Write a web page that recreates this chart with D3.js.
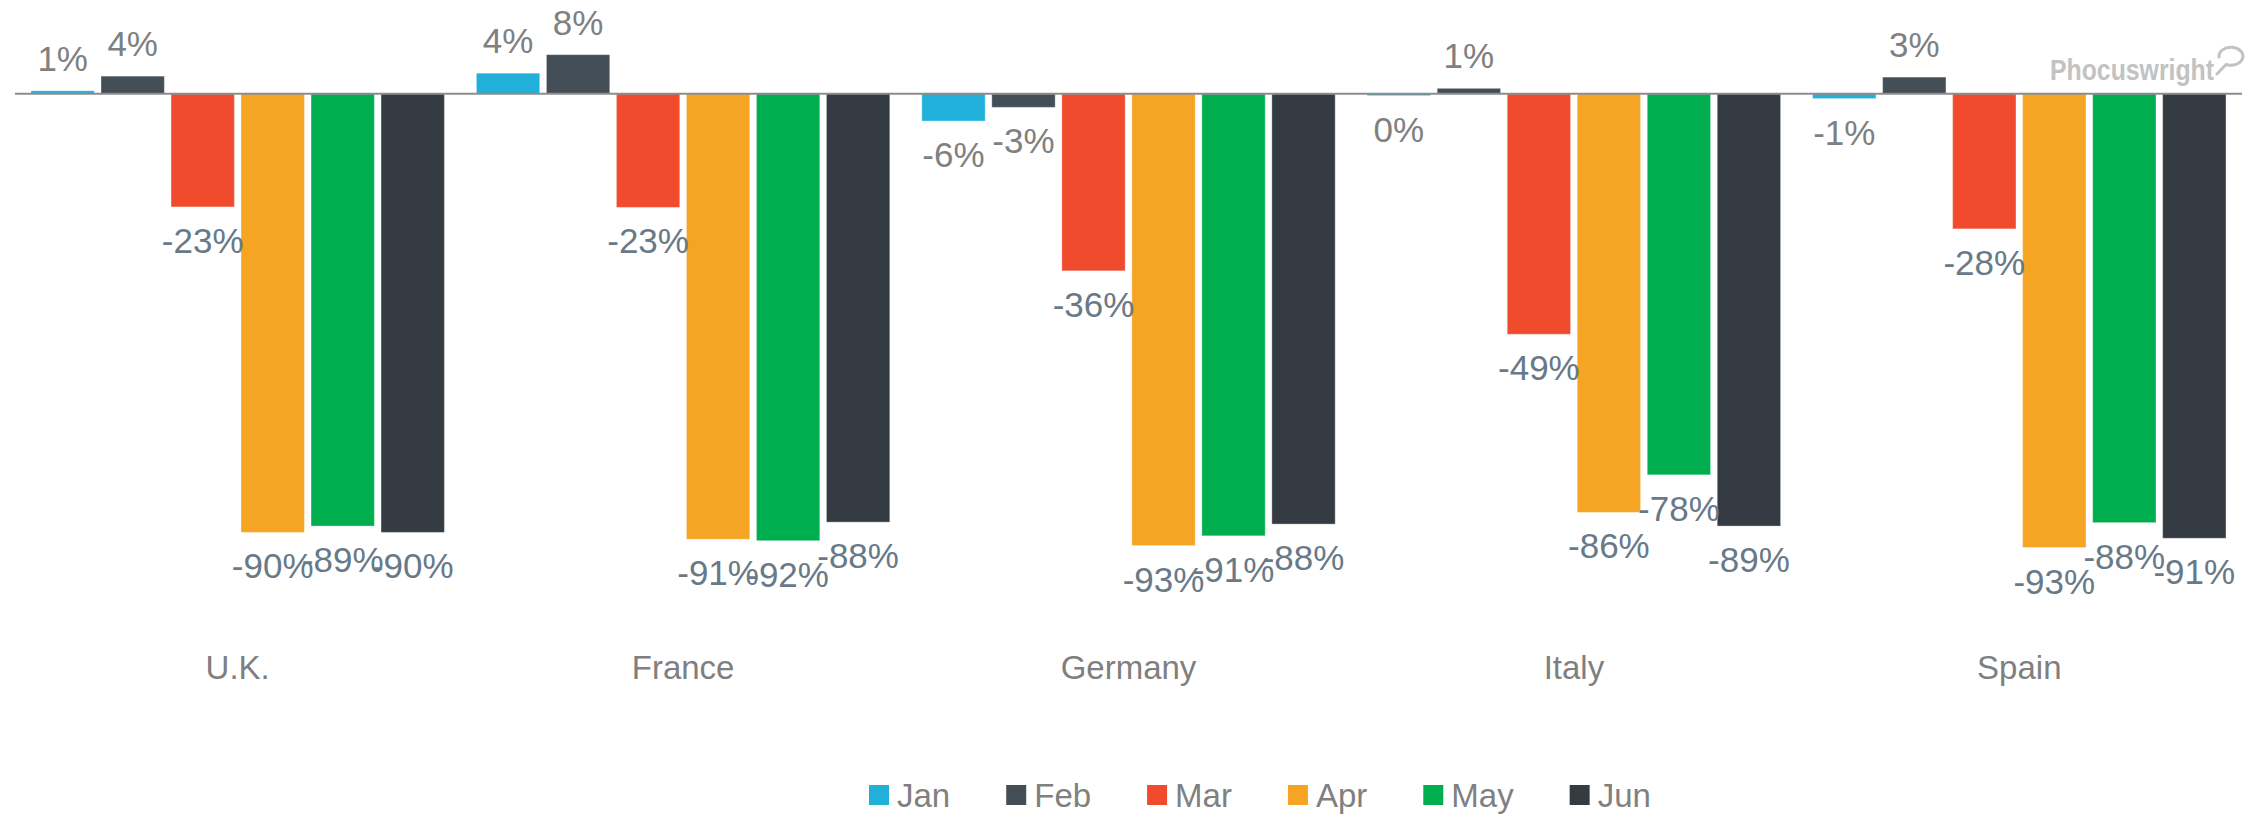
<!DOCTYPE html>
<html>
<head>
<meta charset="utf-8">
<script src="https://cdn.jsdelivr.net/npm/d3@7"></script>
<style>
  html, body { margin: 0; padding: 0; background: #fff; }
  svg { display: block; font-family: "Liberation Sans", Arial, sans-serif; }
</style>
</head>
<body>
<div id="chart"></div>
<script>
// data
var countries = ["U.K.", "France", "Germany", "Italy", "Spain"];
var months = ["Jan", "Feb", "Mar", "Apr", "May", "Jun"];
var colors = ["#20b0da", "#444e57", "#f04b2d", "#f5a423", "#00ae50", "#353b43"];
var labelColors = ["#808080", "#808080", "#687988", "#687988", "#687988", "#687988"];

var janVals = [0.6, 4.2, -5.6, -0.4, -1.0];
var febVals = [3.6, 8.0, -2.8, 1.1, 3.4];
var marVals = [-23.2, -23.3, -36.3, -49.3, -27.7];
var aprVals = [-89.9, -91.3, -92.6, -85.8, -93.0];
var mayVals = [-88.6, -91.6, -90.6, -78.1, -87.9];
var junVals = [-89.9, -87.8, -88.2, -88.6, -91.1];
var series = [janVals, febVals, marVals, aprVals, mayVals, junVals];

var W = 2257, H = 814;

var svg = d3.select("#chart").append("svg")
  .attr("width", W)
  .attr("height", H);

var x0 = d3.scaleBand()
  .domain(countries)
  .range([15, 2242]);

var x1 = d3.scaleBand()
  .domain(months)
  .range([16, x0.bandwidth() - 16])
  .paddingInner(0.095);

var y = d3.scaleLinear()
  .domain([0, -100])
  .range([93.7, 581.7]);

// flatten for drawing
var cells = [];
countries.forEach(function(c, ci) {
  months.forEach(function(m, mi) {
    cells.push({country: c, month: m, mi: mi, value: series[mi][ci]});
  });
});

var groups = svg.append("g");

groups.selectAll("rect.bar")
  .data(cells)
  .enter().append("rect")
  .attr("class", "bar")
  .attr("x", function(d) { return x0(d.country) + x1(d.month); })
  .attr("width", x1.bandwidth())
  .attr("y", function(d) { return Math.min(y(d.value), y(0)); })
  .attr("height", function(d) { return Math.abs(y(d.value) - y(0)); })
  .attr("fill", function(d) { return colors[d.mi]; })
  .attr("stroke", "#fff")
  .attr("stroke-opacity", 0.35)
  .attr("stroke-width", 1);

// zero line
svg.append("line")
  .attr("x1", x0.range()[0])
  .attr("x2", x0.range()[1])
  .attr("y1", y(0))
  .attr("y2", y(0))
  .attr("stroke", "#8c8c8c")
  .attr("stroke-width", 2);

// value labels
groups.selectAll("text.val")
  .data(cells)
  .enter().append("text")
  .attr("class", "val")
  .attr("x", function(d) { return x0(d.country) + x1(d.month) + x1.bandwidth() / 2; })
  .attr("y", function(d) { return d.value >= 0 ? y(d.value) - 20 : y(d.value) + 46; })
  .attr("text-anchor", "middle")
  .attr("font-size", 35)
  .attr("fill", function(d) { return labelColors[d.mi]; })
  .text(function(d) { return Math.round(d.value) + "%"; });

// category labels
svg.selectAll("text.cat")
  .data(countries)
  .enter().append("text")
  .attr("class", "cat")
  .attr("x", function(d) { return x0(d) + x0.bandwidth() / 2; })
  .attr("y", 679)
  .attr("text-anchor", "middle")
  .attr("font-size", 33)
  .attr("fill", "#7f7f7f")
  .text(function(d) { return d; });

// legend
var legend = svg.append("g").attr("transform", "translate(869,0)");
var lx = 0;
months.forEach(function(m, i) {
  var item = legend.append("g").attr("transform", "translate(" + lx + ",0)");
  item.append("rect")
    .attr("x", 0).attr("y", 785)
    .attr("width", 20).attr("height", 20)
    .attr("fill", colors[i]);
  var t = item.append("text")
    .attr("x", 28).attr("y", 807)
    .attr("font-size", 33)
    .attr("fill", "#808080")
    .text(m);
  lx += 28 + t.node().getComputedTextLength() + 56;
});

// logo
svg.append("text")
  .attr("x", 2214)
  .attr("y", 80)
  .attr("text-anchor", "end")
  .attr("font-size", 30)
  .attr("font-weight", "bold")
  .attr("fill", "#c2c2c2")
  .attr("textLength", 164)
  .attr("lengthAdjust", "spacingAndGlyphs")
  .text("Phocuswright");

svg.append("path")
  .attr("d", "M2217,74 L2226,64.5 A12,9 0 1,0 2219,57")
  .attr("fill", "none")
  .attr("stroke", "#c2c2c2")
  .attr("stroke-width", 3)
  .attr("stroke-linecap", "round")
  .attr("stroke-linejoin", "round");
</script>
</body>
</html>
